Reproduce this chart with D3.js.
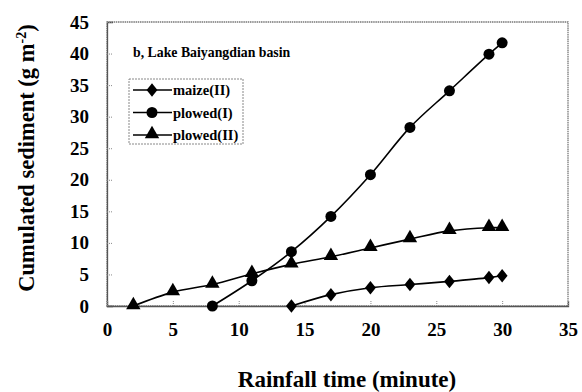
<!DOCTYPE html>
<html>
<head>
<meta charset="utf-8">
<script src="https://cdn.jsdelivr.net/npm/d3@7"></script>
<style>
body { margin: 0; background: #fff; }
text { font-family: "Liberation Serif", "Times New Roman", serif; font-weight: bold; fill: #000; }
</style>
</head>
<body>
<svg id="chart" width="582" height="392"></svg>
<script>
// data
var xTicks = [0, 5, 10, 15, 20, 25, 30, 35];
var yTicks = [0, 5, 10, 15, 20, 25, 30, 35, 40, 45];

var maizeX = [14, 17, 20, 23, 26, 29, 30];
var maizeY = [0, 1.8, 2.9, 3.4, 3.9, 4.5, 4.8];

var plowed1X = [8, 11, 14, 17, 20, 23, 26, 29, 30];
var plowed1Y = [0, 4.0, 8.6, 14.2, 20.8, 28.3, 34.1, 39.9, 41.7];

var plowed2X = [2, 5, 8, 11, 14, 17, 20, 23, 26, 29, 30];
var plowed2Y = [0, 2.2, 3.4, 5.1, 6.6, 7.8, 9.2, 10.6, 11.9, 12.4, 12.4];

var seriesNames = ["maize(II)", "plowed(I)", "plowed(II)"];

var svg = d3.select("#chart");
var plotLeft = 107, plotRight = 568, plotTop = 22, plotBottom = 306;

var x = d3.scaleLinear().domain([0, 35]).range([plotLeft, plotRight]);
var y = d3.scaleLinear().domain([0, 45]).range([plotBottom, plotTop]);

//Plot frame
svg.append("rect")
    .attr("x", plotLeft).attr("y", plotTop)
    .attr("width", plotRight - plotLeft).attr("height", plotBottom - plotTop)
    .attr("fill", "none")
    .attr("stroke", "#777")
    .attr("stroke-width", 1.3)
    .attr("stroke-dasharray", "1.5,0.7");

//Axes with inward ticks
var yAxis = d3.axisLeft(y).tickValues(yTicks).tickSize(-6).tickPadding(18);
var gy = svg.append("g").attr("transform", "translate(" + plotLeft + ",0)").call(yAxis);
var xAxis = d3.axisBottom(x).tickValues(xTicks).tickSize(-5).tickPadding(20);
var gx = svg.append("g").attr("transform", "translate(0," + plotBottom + ")").call(xAxis);

[gx, gy].forEach(function (g) {
    g.select(".domain").attr("stroke", "#555").attr("stroke-width", 1.3);
    g.selectAll(".tick line").attr("stroke", "#888").attr("stroke-dasharray", "1,1");
    g.selectAll(".tick text")
        .style("font-family", "'Liberation Serif', serif")
        .style("font-weight", "bold")
        .style("font-size", "19px")
        .attr("fill", "#000");
});
gx.selectAll(".tick text").attr("dy", "0.5em");

//Axis titles
svg.append("text")
    .attr("x", 347).attr("y", 387)
    .attr("text-anchor", "middle")
    .style("font-size", "23px")
    .text("Rainfall time (minute)");

var yt = svg.append("text")
    .attr("transform", "translate(34,158) rotate(-90)")
    .attr("text-anchor", "middle")
    .style("font-size", "22.5px");
yt.append("tspan").text("Cumulated sediment (g m");
yt.append("tspan").attr("dy", "-8").style("font-size", "14px").text("-2");
yt.append("tspan").attr("dy", "8").text(")");

svg.append("text")
    .attr("x", 133).attr("y", 57)
    .style("font-size", "13.8px")
    .text("b, Lake Baiyangdian basin");

//Series
var line = d3.line()
    .x(function (d) { return x(d[0]); })
    .y(function (d) { return y(d[1]); })
    .curve(d3.curveCatmullRom.alpha(0.5));

var symbols = [
    d3.symbol().type(d3.symbolDiamond).size(65),
    d3.symbol().type(d3.symbolCircle).size(95),
    d3.symbol().type(d3.symbolTriangle).size(90)
];

var series = [
    d3.zip(maizeX, maizeY),
    d3.zip(plowed1X, plowed1Y),
    d3.zip(plowed2X, plowed2Y)
];

series.forEach(function (pts, i) {
    svg.append("path")
        .attr("d", line(pts))
        .attr("fill", "none")
        .attr("stroke", "#000")
        .attr("stroke-width", 1.6);
    svg.selectAll(".m" + i)
        .data(pts)
        .enter().append("path")
        .attr("class", "m" + i)
        .attr("transform", function (d) {
            var dy = i == 2 ? -1 : 0;
            return "translate(" + x(d[0]) + "," + (y(d[1]) + dy) + ")" + (i == 0 ? " scale(1.25,0.9)" : "");
        })
        .attr("d", symbols[i]())
        .attr("fill", "#000");
});

//Legend
var lg = svg.append("g");
lg.append("rect")
    .attr("x", 129).attr("y", 79)
    .attr("width", 114).attr("height", 65)
    .attr("fill", "#fff")
    .attr("stroke", "#888")
    .attr("stroke-dasharray", "2,1");

seriesNames.forEach(function (name, i) {
    var ly = 90 + i * 22.5;
    lg.append("line")
        .attr("x1", 133).attr("x2", 172)
        .attr("y1", ly).attr("y2", ly)
        .attr("stroke", "#000").attr("stroke-width", 1.6);
    lg.append("path")
        .attr("transform", "translate(152," + (ly + (i == 2 ? -1 : 0)) + ")" + (i == 0 ? " scale(1.25,0.9)" : ""))
        .attr("d", symbols[i]())
        .attr("fill", "#000");
    lg.append("text")
        .attr("x", 173).attr("y", ly + 5)
        .style("font-size", "14.5px")
        .text(name);
});
</script>
</body>
</html>
